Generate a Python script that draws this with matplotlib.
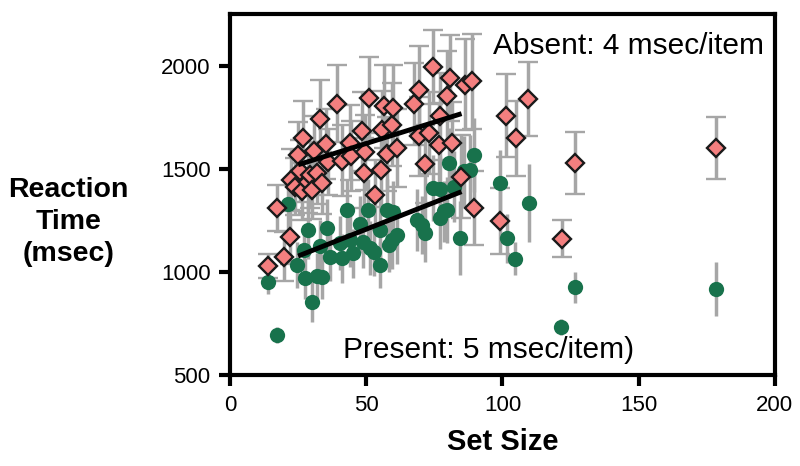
import numpy as np
import matplotlib
matplotlib.use('Agg')
import matplotlib.pyplot as plt

# ── data ────────────────────────────────────────────────────────────────────
absent_x = [14.1, 17.4, 20.0, 22.1, 22.3, 24.0, 25.1, 25.7, 26.4, 26.9,
            28.8, 29.4, 30.0, 31.0, 32.1, 33.1, 33.7, 35.3, 35.8, 39.2,
            41.0, 44.1, 44.6, 48.4, 49.3, 49.5, 51.2, 53.3, 55.4, 55.8,
            56.4, 57.6, 59.4, 59.7, 61.3, 67.6, 69.2, 69.5, 71.7, 72.9,
            74.7, 76.6, 77.2, 79.7, 80.9, 81.5, 84.8, 86.4, 88.8, 89.5,
            99.0, 101.5, 105.1, 109.3, 121.9, 126.8, 178.5]
absent_y = [1029, 1310, 1074, 1168, 1447, 1414, 1568, 1487, 1390, 1649,
            1434, 1471, 1398, 1584, 1479, 1741, 1430, 1621, 1535, 1816,
            1540, 1627, 1560, 1681, 1479, 1579, 1843, 1374, 1495, 1686,
            1802, 1571, 1714, 1794, 1600, 1814, 1883, 1657, 1524, 1673,
            1994, 1617, 1754, 1851, 1940, 1625, 1462, 1908, 1924, 1309,
            1249, 1757, 1647, 1838, 1162, 1530, 1600]
absent_err = [60, 110, 120, 130, 150, 140, 160, 150, 140, 180,
              150, 160, 140, 170, 150, 190, 150, 170, 160, 185,
              170, 180, 170, 190, 170, 180, 200, 170, 180, 190,
              200, 180, 200, 210, 190, 200, 210, 190, 190, 200,
              180, 200, 210, 220, 210, 200, 200, 220, 230, 180,
              160, 200, 180, 180, 90, 150, 150]

present_x = [14.1, 17.4, 21.4, 24.5, 27.0, 27.6, 28.8, 30.0, 31.9, 33.1,
             33.7, 35.5, 36.8, 40.4, 41.0, 42.9, 44.1, 45.3, 47.8, 49.0,
             50.8, 51.5, 52.7, 55.1, 55.1, 57.6, 58.2, 59.4, 60.0, 61.3,
             68.6, 70.5, 71.7, 74.7, 77.0, 77.2, 78.4, 79.7, 80.3, 82.1,
             84.6, 85.8, 88.2, 89.5, 99.0, 101.7, 104.6, 109.7, 121.6,
             126.8, 178.5]
present_y = [953, 694, 1330, 1034, 1107, 969, 1204, 856, 981, 1124,
             977, 1212, 1074, 1139, 1066, 1301, 1155, 1090, 1230, 1147,
             1301, 1115, 1098, 1034, 1204, 1301, 1131, 1155, 1290, 1180,
             1252, 1228, 1188, 1406, 1400, 1260, 1293, 1301, 1528, 1414,
             1163, 1487, 1495, 1568, 1433, 1163, 1064, 1333, 734,
             925, 916]
present_err = [60, 40, 130, 110, 120, 100, 140, 100, 110, 130,
               110, 140, 120, 130, 120, 150, 130, 120, 140, 130,
               150, 130, 120, 112, 140, 150, 130, 140, 150, 140,
               150, 140, 140, 160, 160, 150, 150, 160, 170, 170,
               180, 170, 170, 180, 160, 120, 80, 190, 40,
               75, 130]

# least-squares lines shown in the figure (ms/item slopes)
absent_fit = (4.13, 1416)    # slope, intercept
present_fit = (5.2, 947)
fit_range = (25, 85)

# ── figure ──────────────────────────────────────────────────────────────────
plt.rcParams['font.family'] = ['Liberation Sans', 'DejaVu Sans']
fig = plt.figure(figsize=(8, 4.66), dpi=100)
ax = fig.add_axes([0.2875, 0.195, 0.681, 0.775])

bar_kw = dict(linestyle='none', ecolor='#a6a6a6', elinewidth=2.5,
              capsize=7, capthick=2.5, zorder=2)

ax.errorbar(present_x, present_y, yerr=present_err, fmt='o',
            color='#18724c', markersize=11, markeredgewidth=0, **bar_kw)
ax.errorbar(absent_x, absent_y, yerr=absent_err, fmt='D',
            markerfacecolor='#f47f7f', markeredgecolor='#1a1a1a',
            markersize=9.5, markeredgewidth=1.7, **bar_kw)

xs = np.array(fit_range)
ax.plot(xs, absent_fit[0] * xs + absent_fit[1], color='black', lw=3.5,
        solid_capstyle='butt', zorder=5)
ax.plot(xs, present_fit[0] * xs + present_fit[1], color='black', lw=3.5,
        solid_capstyle='butt', zorder=5)

ax.text(96.5, 2095, 'Absent: 4 msec/item', fontsize=21.5, va='center',
        ha='left', zorder=6)
ax.text(41.5, 621, 'Present: 5 msec/item)', fontsize=21.5, va='center',
        ha='left', zorder=6)

ax.set_xlim(0, 200)
ax.set_ylim(500, 2250)
ax.set_xticks([0, 50, 100, 150, 200])
ax.set_yticks([500, 1000, 1500, 2000])

for lbl in ax.get_xticklabels() + ax.get_yticklabels():
    lbl.set_fontsize(16)

ax.tick_params(direction='out', length=8, width=3, pad=6)
for spine in ax.spines.values():
    spine.set_linewidth(3)

ax.set_xlabel('Set Size', fontsize=21, fontweight='bold', labelpad=9)
fig.text(0.086, 0.524, 'Reaction\nTime\n(msec)', fontsize=20.5,
         fontweight='bold', ha='center', va='center', linespacing=1.3)

fig.savefig('out.png', dpi=100)
